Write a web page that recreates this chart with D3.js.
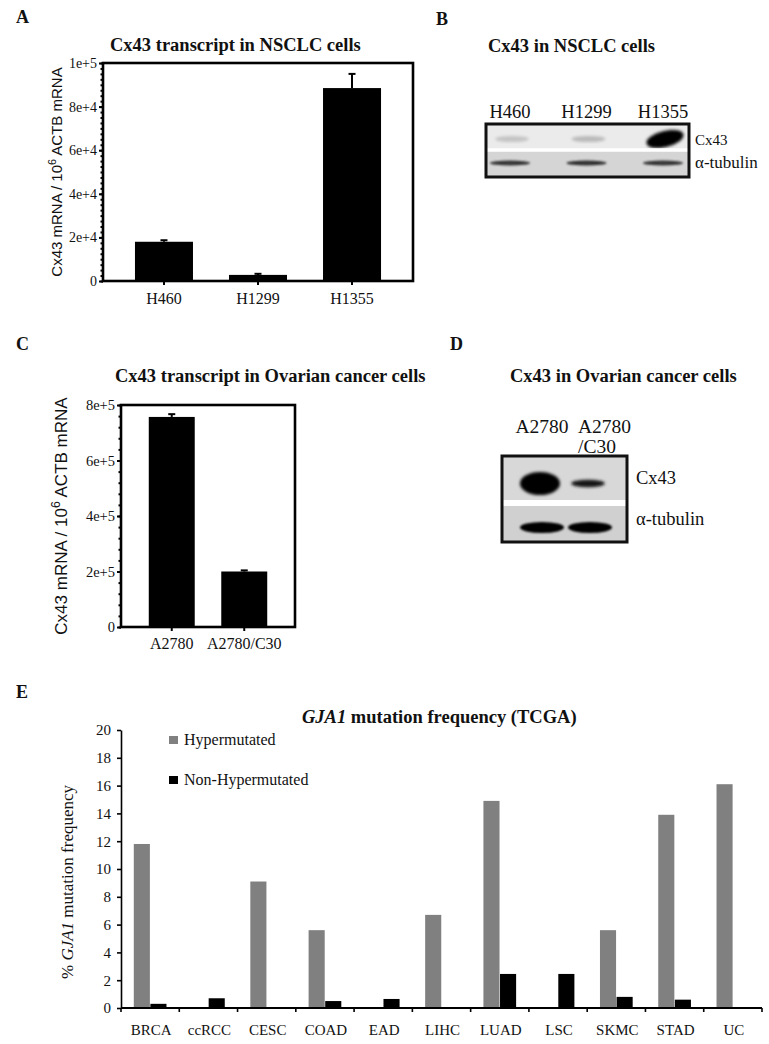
<!DOCTYPE html>
<html>
<head>
<meta charset="utf-8">
<script src="https://cdn.jsdelivr.net/npm/d3@7"></script>
<style>
    body { margin: 0; background: #fff; }
    svg text { font-family: "Liberation Serif", "Times New Roman", serif; fill: #111; }
</style>
</head>
<body>
<svg id="fig" width="769" height="1044"></svg>
<script>
// ---- data ----
// A: Cx43 transcript in NSCLC cells
const nsclcLines = ["H460", "H1299", "H1355"];
const nsclcMrna = [18000, 2800, 88500];
const nsclcErr = [700, 500, 6500];
const nsclcTicks = [0, 20000, 40000, 60000, 80000, 100000];

// B: western blot band intensities (0..1)
const nsclcBlotCx43 = [0.25, 0.3, 1.0];
const nsclcBlotTubulin = [0.8, 0.82, 0.8];

// C: Cx43 transcript in ovarian cancer cells
const ovarianLines = ["A2780", "A2780/C30"];
const ovarianMrna = [757000, 200000];
const ovarianErr = [10000, 4000];
const ovarianTicks = [0, 200000, 400000, 600000, 800000];

// D: western blot band intensities
const ovarianBlotCx43 = [1.0, 0.55];
const ovarianBlotTubulin = [0.92, 0.88];

// E: GJA1 mutation frequency (TCGA)
const cancerTypes = ["BRCA", "ccRCC", "CESC", "COAD", "EAD", "LIHC", "LUAD", "LSC", "SKMC", "STAD", "UC"];
const hyperFreq = [11.8, 0, 9.1, 5.6, 0, 6.7, 14.9, 0, 5.6, 13.9, 16.1];
const nonHyperFreq = [0.3, 0.7, 0, 0.5, 0.65, 0, 2.45, 2.45, 0.8, 0.6, 0];
const seriesNames = ["Hypermutated", "Non-Hypermutated"];
const freqTicks = [0, 2, 4, 6, 8, 10, 12, 14, 16, 18, 20];

const svg = d3.select("#fig");
const SERIF = "Liberation Serif, Times New Roman, serif";
const SANS = "Liberation Sans, Arial, sans-serif";

// blur filters for the blot bands
const defs = svg.append("defs");
[["blur1", 1.1], ["blur2", 1.8]].forEach(([id, s]) => {
    defs.append("filter").attr("id", id)
        .attr("x", "-50%").attr("y", "-80%").attr("width", "200%").attr("height", "260%")
        .append("feGaussianBlur").attr("stdDeviation", s);
});

function panelLabel(t, x, y) {
    svg.append("text").attr("x", x).attr("y", y)
        .style("font-size", "18px").style("font-weight", "bold").text(t);
}

function title(t, x, y) {
    svg.append("text").attr("x", x).attr("y", y)
        .style("font-size", "18.5px").style("font-weight", "bold").text(t);
}

const expFmt = v => v === 0 ? "0" : v.toExponential(0);

// bar chart with error bars (panels A and C)
function createMrnaChart(c) {
    const g = svg.append("g");
    const x = d3.scaleBand().domain(c.cats)
        .range([c.left, c.right]).paddingInner(c.pIn).paddingOuter(c.pOut);
    const y = d3.scaleLinear().domain([0, c.max]).range([c.bottom, c.top]);

    // bars
    g.selectAll(".bar").data(c.cats).join("rect")
        .attr("class", "bar")
        .attr("x", d => x(d))
        .attr("width", x.bandwidth())
        .attr("y", (d, i) => y(c.vals[i]))
        .attr("height", (d, i) => y(0) - y(c.vals[i]))
        .attr("fill", "#000");

    // error bars (upper half only)
    const eb = g.selectAll(".err").data(c.cats).join("g").attr("class", "err");
    eb.append("line")
        .attr("x1", d => x(d) + x.bandwidth() / 2).attr("x2", d => x(d) + x.bandwidth() / 2)
        .attr("y1", (d, i) => y(c.vals[i])).attr("y2", (d, i) => y(c.vals[i] + c.errs[i]))
        .attr("stroke", "#000").attr("stroke-width", 2);
    eb.append("line")
        .attr("x1", d => x(d) + x.bandwidth() / 2 - 3.5).attr("x2", d => x(d) + x.bandwidth() / 2 + 3.5)
        .attr("y1", (d, i) => y(c.vals[i] + c.errs[i])).attr("y2", (d, i) => y(c.vals[i] + c.errs[i]))
        .attr("stroke", "#000").attr("stroke-width", 2);

    // minor ticks
    g.append("g").attr("transform", `translate(${c.left},0)`)
        .call(d3.axisLeft(y).tickValues(d3.range(0, c.max + 1, c.minorStep)).tickSize(2.5).tickFormat(""))
        .call(a => a.select(".domain").remove())
        .call(a => a.selectAll("line").attr("stroke-width", 2));

    // major ticks + labels
    g.append("g").attr("transform", `translate(${c.left},0)`)
        .attr("font-family", SERIF)
        .call(d3.axisLeft(y).tickValues(c.ticks).tickSize(4).tickPadding(2).tickFormat(expFmt))
        .attr("font-family", SERIF)
        .call(a => a.select(".domain").remove())
        .call(a => a.selectAll("line").attr("stroke-width", 2))
        .call(a => a.selectAll("text")
            .style("font-family", SERIF).style("font-size", c.tickSize + "px").attr("fill", "#222"));

    // bottom axis, ticks at bar centres
    g.append("g").attr("transform", `translate(0,${c.bottom})`)
        .call(d3.axisBottom(x).tickSize(4).tickPadding(c.catPad))
        .attr("font-family", SERIF)
        .call(a => a.select(".domain").remove())
        .call(a => a.selectAll("line").attr("stroke-width", 2))
        .call(a => a.selectAll("text")
            .style("font-family", SERIF).style("font-size", c.catSize + "px").attr("fill", "#222"));

    // frame
    g.append("rect")
        .attr("x", c.left).attr("y", c.top)
        .attr("width", c.right - c.left).attr("height", c.bottom - c.top)
        .attr("fill", "none").attr("stroke", "#000").attr("stroke-width", 2.6);

    // y label
    const yl = g.append("text")
        .attr("transform", `translate(${c.ylabX},${(c.top + c.bottom) / 2}) rotate(-90)`)
        .attr("text-anchor", "middle")
        .style("font-family", SANS).style("font-size", c.ylabSize + "px").attr("fill", "#222");
    yl.append("tspan").text("Cx43 mRNA / 10");
    yl.append("tspan").attr("dy", -c.ylabSize * 0.4).style("font-size", (c.ylabSize * 0.72) + "px").text("6");
    yl.append("tspan").attr("dy", c.ylabSize * 0.4).text(" ACTB mRNA");
}

// western blot drawing (panels B and D)
function drawBlot(c) {
    const g = svg.append("g");
    const x = d3.scalePoint().domain(c.lanes).range(c.laneRange);

    g.append("rect").attr("x", c.x).attr("y", c.y)
        .attr("width", c.w).attr("height", c.split - c.y).attr("fill", c.topBg);
    g.append("rect").attr("x", c.x).attr("y", c.split)
        .attr("width", c.w).attr("height", c.y + c.h - c.split).attr("fill", c.botBg);

    // Cx43 bands
    g.selectAll(".cx").data(c.lanes).join("ellipse")
        .attr("class", "cx")
        .attr("cx", d => x(d) + c.cxShift)
        .attr("cy", c.cx43Y)
        .attr("rx", (d, i) => c.rx0 + c.rx1 * c.cx43[i])
        .attr("ry", (d, i) => c.ry0 + c.ry1 * Math.pow(c.cx43[i], 4))
        .attr("transform", (d, i) => `rotate(${-c.tilt * Math.pow(c.cx43[i], 4)},${x(d) + c.cxShift},${c.cx43Y})`)
        .attr("fill", (d, i) => d3.interpolateRgb(c.topBg, "#000")(Math.pow(c.cx43[i], c.gamma)))
        .attr("filter", "url(#blur2)");

    // tubulin bands
    g.selectAll(".tub").data(c.lanes).join("ellipse")
        .attr("class", "tub")
        .attr("cx", d => x(d))
        .attr("cy", c.tubY)
        .attr("rx", c.tubRx)
        .attr("ry", c.tubRy)
        .attr("fill", (d, i) => d3.interpolateRgb(c.botBg, "#000")(Math.pow(c.tub[i], c.gamma)))
        .attr("filter", "url(#blur1)");

    // white separator between membranes
    g.append("rect").attr("x", c.x).attr("y", c.split - c.gap / 2)
        .attr("width", c.w).attr("height", c.gap).attr("fill", "#fff");

    g.append("rect").attr("x", c.x).attr("y", c.y)
        .attr("width", c.w).attr("height", c.h)
        .attr("fill", "none").attr("stroke", "#111").attr("stroke-width", 3);

    // lane labels
    c.lanes.forEach(d => {
        const parts = d.includes("/") ? [d.slice(0, d.indexOf("/")), d.slice(d.indexOf("/"))] : [d];
        const lx = parts.length > 1 ? x(d) - c.multiIndent : x(d);
        const t = g.append("text")
            .attr("x", lx)
            .attr("y", c.laneLabelY)
            .attr("text-anchor", parts.length > 1 ? "start" : "middle")
            .style("font-size", c.laneSize + "px").attr("fill", "#222");
        parts.forEach((p, k) => t.append("tspan")
            .attr("x", lx)
            .attr("dy", k === 0 ? 0 : c.laneSize * 1.05).text(p));
    });

    g.append("text").attr("x", c.x + c.w + c.sideGap).attr("y", c.cx43Y + c.cxLabDy)
        .style("font-size", c.cxLabSize + "px").attr("fill", "#222").text("Cx43");
    g.append("text").attr("x", c.x + c.w + c.sideGap).attr("y", c.tubY + c.tubLabDy)
        .style("font-size", c.tubLabSize + "px").attr("fill", "#222").text("\u03b1-tubulin");
}

// grouped bar chart (panel E)
function createMutationChart() {
    const left = 121, right = 762, top = 730, bottom = 1008;
    const g = svg.append("g");
    const x = d3.scaleBand().domain(cancerTypes).range([left, right]);
    const xs = d3.scaleBand().domain(seriesNames).range([0, x.bandwidth()])
        .paddingInner(0.03).paddingOuter(0.77);
    const y = d3.scaleLinear().domain([0, 20]).range([bottom, top]);
    const colors = { "Hypermutated": "#808080", "Non-Hypermutated": "#000" };
    const series = [hyperFreq, nonHyperFreq];

    seriesNames.forEach((s, k) => {
        g.append("g").selectAll("rect").data(cancerTypes).join("rect")
            .attr("x", d => x(d) + xs(s))
            .attr("width", xs.bandwidth())
            .attr("y", (d, i) => y(series[k][i]))
            .attr("height", (d, i) => y(0) - y(series[k][i]))
            .attr("fill", colors[s]);
    });

    // y axis
    g.append("g").attr("transform", `translate(${left},0)`)
        .call(d3.axisLeft(y).tickValues(freqTicks).tickSize(4).tickPadding(6).tickSizeOuter(0))
        .attr("font-family", SERIF)
        .call(a => a.select(".domain").attr("stroke-width", 1.6))
        .call(a => a.selectAll(".tick line").attr("stroke-width", 1.6))
        .call(a => a.selectAll("text")
            .style("font-family", SERIF).style("font-size", "15px").attr("fill", "#222"));

    // x axis: ticks at category boundaries
    const bounds = cancerTypes.map(d => x(d)).concat([right]);
    g.append("line").attr("x1", left).attr("x2", right).attr("y1", bottom).attr("y2", bottom)
        .attr("stroke", "#000").attr("stroke-width", 2);
    g.selectAll(".bt").data(bounds).join("line")
        .attr("x1", d => d).attr("x2", d => d).attr("y1", bottom).attr("y2", bottom + 4)
        .attr("stroke", "#000").attr("stroke-width", 1.6);
    g.selectAll(".cat").data(cancerTypes).join("text")
        .attr("x", d => x(d) + x.bandwidth() / 2 + 1)
        .attr("y", bottom + 27)
        .attr("text-anchor", "middle")
        .style("font-size", "15px").attr("fill", "#222")
        .text(d => d);

    // legend
    seriesNames.forEach((s, k) => {
        g.append("rect").attr("x", 169).attr("y", 736 + k * 40).attr("width", 9).attr("height", 8)
            .attr("fill", colors[s]);
        g.append("text").attr("x", 184).attr("y", 745 + k * 40)
            .style("font-size", "16px").attr("fill", "#222").text(s);
    });

    // title
    const t = svg.append("text").attr("x", 302).attr("y", 723)
        .style("font-size", "18.5px").style("font-weight", "bold");
    t.append("tspan").style("font-style", "italic").text("GJA1");
    t.append("tspan").text(" mutation frequency (TCGA)");

    // y label
    const yl = g.append("text")
        .attr("transform", `translate(73,${(top + bottom) / 2 + 13}) rotate(-90)`)
        .attr("text-anchor", "middle")
        .style("font-size", "17px").attr("fill", "#222");
    yl.append("tspan").text("% ");
    yl.append("tspan").style("font-style", "italic").text("GJA1");
    yl.append("tspan").text(" mutation frequency");
}

// ---- panels ----
panelLabel("A", 16, 23);
title("Cx43 transcript in NSCLC cells", 110, 51);
createMrnaChart({
    cats: nsclcLines, vals: nsclcMrna, errs: nsclcErr, ticks: nsclcTicks,
    left: 103, right: 413, top: 63, bottom: 281, max: 100000, minorStep: 2500,
    pIn: 0.383, pOut: 0.34, tickSize: 14, catSize: 16, catPad: 8,
    ylabX: 62, ylabSize: 15
});

panelLabel("B", 436, 25);
title("Cx43 in NSCLC cells", 488, 52);
drawBlot({
    lanes: nsclcLines, cx43: nsclcBlotCx43, tub: nsclcBlotTubulin,
    x: 486, y: 124, w: 203, h: 53, split: 150,  gap: 3.5,
    topBg: "#ebebeb", botBg: "#d5d5d5",
    laneRange: [510, 663], cxShift: 2, cx43Y: 139, tubY: 163,
    rx0: 16, rx1: 3, ry0: 3, ry1: 5, tilt: 14, gamma: 1.3,
    tubRx: 20, tubRy: 2.6,
    laneLabelY: 118, laneSize: 18.5, multiIndent: 0,
    sideGap: 6, cxLabDy: 6, cxLabSize: 15, tubLabDy: 5, tubLabSize: 17
});

panelLabel("C", 16, 350);
title("Cx43 transcript in Ovarian cancer cells", 115, 382);
createMrnaChart({
    cats: ovarianLines, vals: ovarianMrna, errs: ovarianErr, ticks: ovarianTicks,
    left: 121, right: 295, top: 405, bottom: 627, max: 800000, minorStep: 40000,
    pIn: 0.366, pOut: 0.383, tickSize: 14.5, catSize: 16, catPad: 7,
    ylabX: 67, ylabSize: 17
});

panelLabel("D", 450, 350);
title("Cx43 in Ovarian cancer cells", 510, 382);
drawBlot({
    lanes: ovarianLines, cx43: ovarianBlotCx43, tub: ovarianBlotTubulin,
    x: 502, y: 456, w: 125, h: 86, split: 503, gap: 6,
    topBg: "#d8d8d8", botBg: "#d0d0d0",
    laneRange: [542, 590], cxShift: -2, cx43Y: 483.5, tubY: 527.5,
    rx0: 13, rx1: 7, ry0: 3, ry1: 8.5, tilt: 0, gamma: 0.2,
    tubRx: 22, tubRy: 5.5,
    laneLabelY: 433, laneSize: 19.5, multiIndent: 12,
    sideGap: 9, cxLabDy: 0, cxLabSize: 18.5, tubLabDy: -3, tubLabSize: 18.5
});

panelLabel("E", 16, 698);
createMutationChart();
</script>
</body>
</html>
